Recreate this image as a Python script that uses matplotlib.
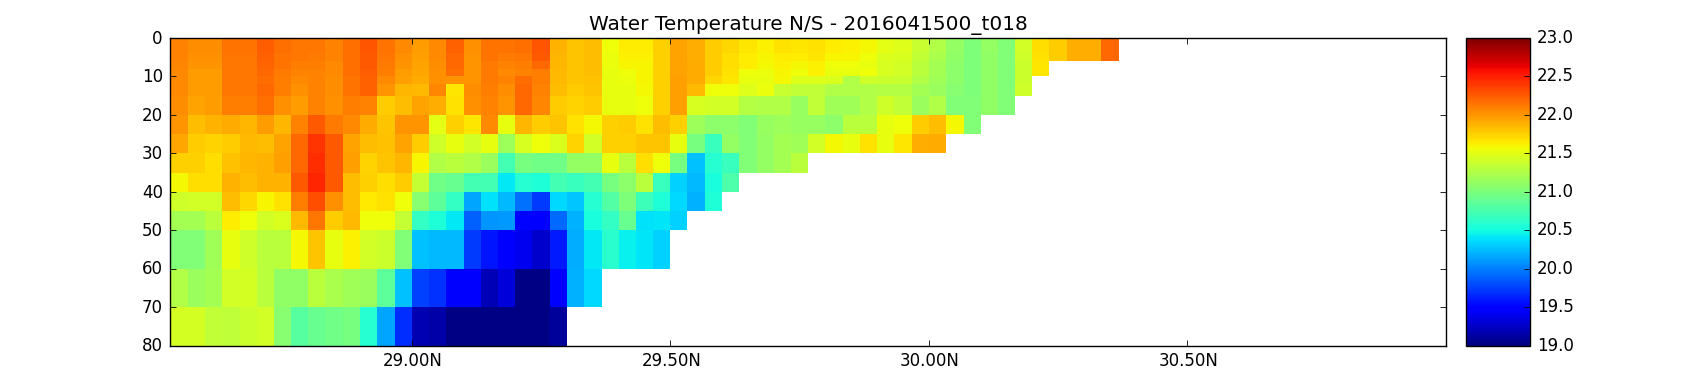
import numpy as np
import matplotlib
matplotlib.use("Agg")
import matplotlib.pyplot as plt
from matplotlib.transforms import ScaledTranslation

title = "Water Temperature N/S - 2016041500_t018"

# grid edges
lat_edges = [28.533, 28.567, 28.600, 28.633, 28.667, 28.700, 28.733, 28.767, 28.800, 28.833,
             28.867, 28.900, 28.933, 28.967, 29.000, 29.033, 29.067, 29.100, 29.133, 29.167,
             29.200, 29.233, 29.267, 29.300, 29.333, 29.367, 29.400, 29.433, 29.467, 29.500,
             29.533, 29.567, 29.600, 29.633, 29.667, 29.700, 29.733, 29.767, 29.800, 29.833,
             29.867, 29.900, 29.933, 29.967, 30.000, 30.033, 30.067, 30.100, 30.133, 30.167,
             30.200, 30.233, 30.267, 30.300, 30.333, 30.367]
depth_edges = [0, 4, 6, 8, 10, 12, 15, 20, 25, 30, 35, 40, 45, 50, 60, 70, 80]

# temperature per depth layer, south to north
temp_00 = [22.08, 22.04, 22.04, 22.15, 22.15, 22.24, 22.17, 22.14, 22.14, 22.08, 22.17, 22.28, 22.15, 22.05, 21.97, 22.06, 22.22, 22.02,
           22.15, 22.15, 22.16, 22.27, 21.88, 21.80, 21.84, 21.56, 21.64, 21.64, 21.76, 21.95, 21.90, 21.78, 21.72, 21.66, 21.62, 21.68,
           21.66, 21.68, 21.64, 21.62, 21.58, 21.50, 21.48, 21.36, 21.25, 21.12, 21.00, 21.12, 21.02, 21.42, 21.70, 21.78, 21.90, 21.90, 22.20]
temp_01 = [22.08, 22.02, 22.02, 22.14, 22.14, 22.22, 22.15, 22.14, 22.12, 22.08, 22.17, 22.26, 22.13, 22.03, 21.96, 22.05, 22.20, 22.00,
           22.15, 22.12, 22.14, 22.25, 21.87, 21.80, 21.84, 21.54, 21.62, 21.62, 21.75, 21.95, 21.90, 21.78, 21.70, 21.63, 21.60, 21.64,
           21.63, 21.66, 21.60, 21.60, 21.56, 21.46, 21.45, 21.33, 21.22, 21.10, 21.00, 21.10, 21.02, 21.40, 21.68, 21.78, 21.90, 21.90, 22.20]
temp_02 = [22.07, 22.00, 22.00, 22.14, 22.14, 22.21, 22.15, 22.10, 22.10, 22.06, 22.17, 22.25, 22.12, 22.00, 21.95, 22.04, 22.20, 22.00,
           22.12, 22.08, 22.10, 22.20, 21.87, 21.80, 21.84, 21.54, 21.60, 21.60, 21.75, 21.95, 21.92, 21.78, 21.70, 21.63, 21.58, 21.62,
           21.58, 21.62, 21.55, 21.56, 21.52, 21.44, 21.42, 21.30, 21.20, 21.08, 21.00, 21.10, 21.02, 21.38, 21.66]
temp_03 = [22.06, 21.98, 21.98, 22.13, 22.13, 22.19, 22.12, 22.08, 22.09, 22.05, 22.16, 22.24, 22.10, 21.97, 21.93, 22.02, 22.18, 22.00,
           22.12, 22.06, 22.08, 22.10, 21.85, 21.80, 21.83, 21.52, 21.56, 21.60, 21.76, 21.95, 21.92, 21.78, 21.68, 21.56, 21.54, 21.60,
           21.55, 21.62, 21.52, 21.52, 21.55, 21.44, 21.42, 21.30, 21.20, 21.08, 21.00, 21.10, 21.02, 21.38, 21.66]
temp_04 = [22.05, 21.98, 21.98, 22.13, 22.13, 22.18, 22.10, 22.05, 22.08, 22.04, 22.15, 22.23, 22.06, 21.96, 21.92, 22.02, 22.00, 22.00,
           22.12, 22.08, 22.18, 22.10, 21.85, 21.80, 21.82, 21.52, 21.54, 21.60, 21.76, 21.96, 21.92, 21.72, 21.66, 21.52, 21.52, 21.58,
           21.48, 21.48, 21.46, 21.25, 21.40, 21.38, 21.36, 21.25, 21.18, 21.08, 21.00, 21.10, 21.02, 21.38]
temp_05 = [22.06, 21.98, 21.98, 22.14, 22.14, 22.19, 22.10, 22.02, 22.08, 22.04, 22.15, 22.22, 22.00, 21.86, 21.85, 22.07, 21.66, 22.04,
           22.10, 22.04, 22.20, 22.08, 21.84, 21.78, 21.80, 21.52, 21.52, 21.58, 21.76, 21.96, 21.85, 21.56, 21.56, 21.48, 21.54, 21.36,
           21.33, 21.33, 21.25, 21.25, 21.25, 21.27, 21.27, 21.20, 21.15, 21.05, 21.00, 21.10, 21.02, 21.40]
temp_06 = [22.04, 21.94, 21.98, 22.10, 22.10, 22.17, 22.03, 21.98, 22.08, 22.03, 22.10, 22.08, 21.78, 21.84, 21.95, 21.90, 21.68, 22.03,
           22.09, 22.00, 22.20, 22.07, 21.78, 21.74, 21.78, 21.52, 21.52, 21.56, 21.76, 21.96, 21.45, 21.42, 21.42, 21.28, 21.26, 21.25,
           21.13, 21.33, 21.18, 21.18, 21.25, 21.40, 21.33, 21.15, 21.25, 21.02, 21.02, 21.10, 21.02]
temp_07 = [22.00, 21.83, 21.88, 21.92, 21.86, 21.98, 21.86, 22.08, 22.26, 22.12, 22.05, 21.92, 21.80, 22.00, 22.00, 21.50, 21.76, 21.66,
           22.06, 21.52, 21.86, 21.78, 21.80, 21.68, 21.58, 21.76, 21.78, 21.68, 21.83, 21.76, 21.17, 21.08, 21.08, 21.02, 21.13, 21.17,
           21.14, 21.14, 21.08, 21.30, 21.30, 21.52, 21.55, 21.78, 21.84, 21.58, 21.02]
temp_08 = [21.93, 21.78, 21.74, 21.78, 21.85, 21.83, 21.95, 22.20, 22.42, 22.26, 21.95, 21.83, 21.82, 21.95, 21.78, 21.40, 21.52, 21.42,
           21.52, 21.17, 21.45, 21.56, 21.46, 21.74, 21.42, 21.76, 21.76, 21.80, 21.80, 21.52, 20.98, 20.68, 21.12, 21.03, 21.12, 21.20,
           21.18, 21.42, 21.58, 21.52, 21.68, 21.52, 21.66, 21.90, 21.92]
temp_09 = [21.76, 21.76, 21.70, 21.82, 21.86, 21.88, 21.96, 22.20, 22.45, 22.26, 21.96, 21.74, 21.80, 21.86, 21.60, 21.25, 21.30, 21.25,
           21.15, 20.72, 20.98, 20.95, 20.95, 21.12, 21.12, 21.53, 21.30, 21.70, 21.55, 20.98, 20.25, 20.58, 20.68, 21.02, 21.12, 21.20,
           21.30]
temp_10 = [21.58, 21.70, 21.70, 21.88, 21.84, 21.88, 21.88, 22.26, 22.47, 22.26, 21.84, 21.76, 21.70, 21.78, 21.35, 20.95, 20.90, 20.72,
           20.72, 20.42, 20.58, 20.55, 20.72, 20.68, 20.72, 20.98, 21.08, 21.30, 20.68, 20.32, 20.23, 20.52, 20.78]
temp_11 = [21.40, 21.42, 21.42, 21.83, 21.72, 21.60, 21.68, 22.10, 22.30, 22.03, 21.84, 21.65, 21.68, 21.55, 21.05, 20.85, 20.65, 20.15,
           20.38, 20.22, 19.95, 19.72, 20.35, 20.27, 20.58, 20.80, 21.00, 20.70, 20.55, 20.35, 20.20, 20.55]
temp_12 = [21.20, 21.20, 21.30, 21.63, 21.55, 21.42, 21.46, 21.85, 22.13, 21.78, 21.85, 21.55, 21.55, 21.35, 20.65, 20.55, 20.42, 19.88,
           20.08, 20.10, 19.50, 19.45, 19.92, 20.20, 20.52, 20.65, 20.90, 20.38, 20.40, 20.32]
temp_13 = [21.02, 21.02, 21.18, 21.52, 21.40, 21.30, 21.30, 21.58, 21.80, 21.53, 21.62, 21.42, 21.38, 21.02, 20.25, 20.22, 20.23, 19.72,
           19.58, 19.48, 19.40, 19.27, 19.60, 20.18, 20.42, 20.60, 20.45, 20.40, 20.32]
temp_14 = [21.25, 21.15, 21.20, 21.42, 21.43, 21.30, 21.10, 21.10, 21.30, 21.22, 21.18, 21.15, 20.85, 20.25, 19.75, 19.70, 19.48, 19.45,
           19.20, 19.32, 19.02, 19.02, 19.48, 20.20, 20.35]
temp_15 = [21.43, 21.43, 21.33, 21.32, 21.38, 21.42, 21.05, 20.82, 20.90, 20.95, 20.98, 20.58, 20.15, 19.68, 19.18, 19.15, 19.02, 19.02,
           19.02, 19.02, 19.02, 19.02, 19.10]

# axis ticks
lat_ticks = [29.0, 29.5, 30.0, 30.5]
lat_labels = ["29.00N", "29.50N", "30.00N", "30.50N"]
depth_ticks = [0, 10, 20, 30, 40, 50, 60, 70, 80]
cbar_ticks = [19.0, 19.5, 20.0, 20.5, 21.0, 21.5, 22.0, 22.5, 23.0]

rows = [temp_00, temp_01, temp_02, temp_03, temp_04, temp_05, temp_06, temp_07,
        temp_08, temp_09, temp_10, temp_11, temp_12, temp_13, temp_14, temp_15]
ncol = len(lat_edges) - 1
grid = np.full((len(rows), ncol), np.nan)
for i, r in enumerate(rows):
    grid[i, :len(r)] = r
grid = np.ma.masked_invalid(grid)

plt.rcParams["axes.linewidth"] = 1.0

W, H = 1700, 384
fig = plt.figure(figsize=(W / 100, H / 100), dpi=100)
ax = fig.add_axes([169.8 / W, 1 - 345.6 / H, 1276.2 / W, 307.6 / H])
cax = fig.add_axes([1465.8 / W, 1 - 345.6 / H, 64.2 / W, 307.6 / H])

mesh = ax.pcolormesh(lat_edges, depth_edges, grid, cmap="jet", vmin=19, vmax=23)
ax.set_xlim(28.532, 31.0)
ax.set_ylim(80, 0)
ax.set_xticks(lat_ticks)
ax.set_xticklabels(lat_labels)
ax.set_yticks(depth_ticks)
ax.tick_params(direction="in", top=True, right=True, length=4, width=0.6, labelsize=12, pad=5)
ax.set_title(title, fontsize=14.4, pad=6)

cbar = fig.colorbar(mesh, cax=cax)
cbar.set_ticks(cbar_ticks)
cbar.set_ticklabels(["%.1f" % t for t in cbar_ticks])
cbar.ax.tick_params(direction="in", length=4, width=0.6, labelsize=12, pad=5)


# nudge tick labels a pixel or two to sit like the original
def nudge(labels, dx, dy):
    for lab in labels:
        lab.set_transform(lab.get_transform() + ScaledTranslation(dx / 100, dy / 100, fig.dpi_scale_trans))


nudge(ax.get_yticklabels(), 0, 1.3)
nudge(ax.get_xticklabels(), 1, 1)
nudge(cbar.ax.get_yticklabels(), 0, 2)

fig.savefig("out.png", dpi=100)
